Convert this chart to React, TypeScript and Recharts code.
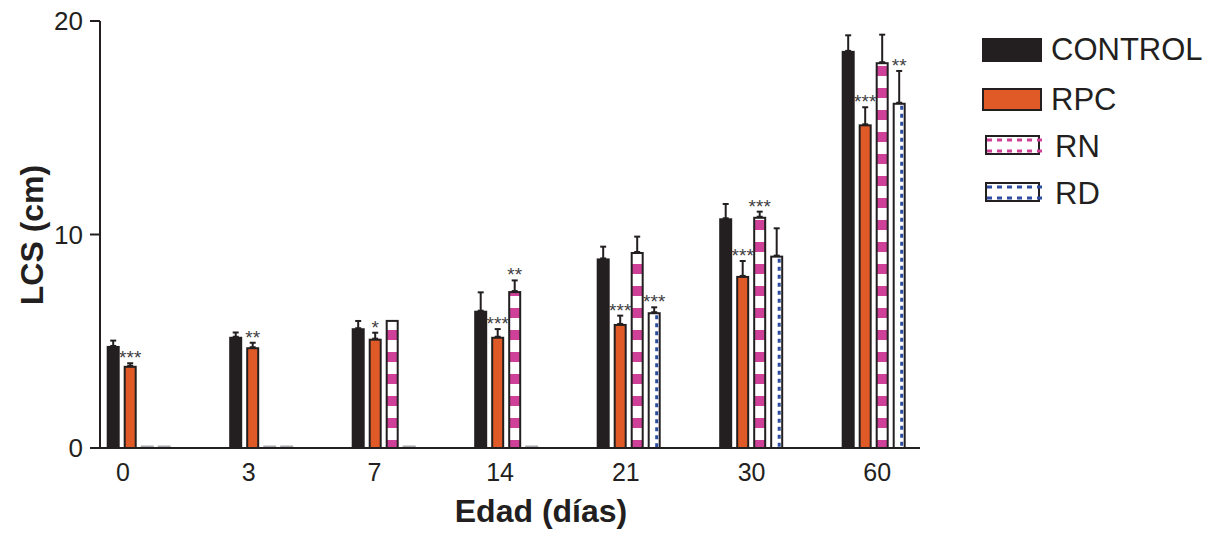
import { BarChart, Bar, XAxis, YAxis, ErrorBar, LabelList, Label } from 'recharts';

const days = ['0', '3', '7', '14', '21', '30', '60'];
const dayIdx = [0, 1, 2, 3, 4, 5, 6];
const yTicks = [0, 10, 20];

const control = [4.78, 5.21, 5.61, 6.43, 8.88, 10.76, 18.6];
const controlErr = [0.25, 0.2, 0.34, 0.86, 0.55, 0.67, 0.73];
const controlSig = ['', '', '', '', '', '', ''];

const rpc = [3.85, 4.72, 5.12, 5.21, 5.81, 8.06, 15.16];
const rpcErr = [0.12, 0.21, 0.28, 0.36, 0.39, 0.7, 0.8];
const rpcSig = ['***', '**', '*', '***', '***', '***', '***'];

const rn = [0, 0, 6.0, 7.35, 9.18, 10.83, 18.07];
const rnErr = [0, 0, 0, 0.5, 0.72, 0.24, 1.29];
const rnSig = ['', '', '', '**', '', '***', ''];

const rd = [0, 0, 0, 0, 6.36, 9.01, 16.17];
const rdErr = [0, 0, 0, 0, 0.23, 1.28, 1.49];
const rdSig = ['', '', '', '', '***', '', '**'];

const INK = '#231f20';
const ORANGE = '#e05a27';
const MAGENTA = '#cf4199';
const BLUE = '#2f4da0';
const FONT = '"Liberation Sans", Arial, sans-serif';

const data = days.map((day, i) => ({
  idx: dayIdx[i],
  day,
  control: control[i],
  controlErr: controlErr[i],
  controlSig: controlSig[i],
  rpc: rpc[i],
  rpcErr: rpcErr[i],
  rpcSig: rpcSig[i],
  rn: rn[i],
  rnErr: rnErr[i],
  rnSig: rnSig[i],
  rd: rd[i],
  rdErr: rdErr[i],
  rdSig: rdSig[i],
}));

const errKey = (key: string) => (row: any) => (row[key] ? [0, row[key]] : null);

const makeShape = (kind: string) => (props: any) => {
  const { x, y, width, height } = props;
  if (!height || height <= 0) {
    return <line x1={x} x2={x + width} y1={y - 1.5} y2={y - 1.5} stroke="#a7a9ac" strokeWidth={2} />;
  }
  if (kind === 'control') {
    return <rect x={x} y={y} width={width} height={height} fill={INK} />;
  }
  const r = { x: x + 1, y: y + 1, width: width - 2, height: height - 1 };
  if (kind === 'rpc') {
    return <rect {...r} fill={ORANGE} stroke={INK} strokeWidth={2} />;
  }
  if (kind === 'rn') {
    return <rect {...r} fill="url(#rnPattern)" stroke={INK} strokeWidth={2} />;
  }
  return (
    <g>
      <rect {...r} fill="#fff" stroke={INK} strokeWidth={2} />
      <line
        x1={x + width - 4}
        x2={x + width - 4}
        y1={y + 3}
        y2={y + height}
        stroke={BLUE}
        strokeWidth={3}
        strokeDasharray="4 4"
      />
    </g>
  );
};

const makeStars = (values: number[], errs: number[]) => (props: any) => {
  const { x, y, width, height, value, index } = props;
  if (!value) return null;
  const v = values[index];
  const pxPerUnit = v ? height / v : 0;
  const errTop = y - errs[index] * pxPerUnit;
  return (
    <text
      x={x + width / 2}
      y={errTop + 1}
      textAnchor="middle"
      fontSize={19}
      fontFamily={FONT}
      fill="#414042"
    >
      {value}
    </text>
  );
};

const legendItems = [
  { name: 'CONTROL', kind: 'control' },
  { name: 'RPC', kind: 'rpc' },
  { name: 'RN', kind: 'rn' },
  { name: 'RD', kind: 'rd' },
];

function ChartLegend() {
  const rowY = [38, 88, 135, 182];
  return (
    <svg width={235} height={230} style={{ position: 'absolute', left: 975, top: 0 }}>
      {legendItems.map((item, i) => {
        const y = rowY[i];
        let sym;
        if (item.kind === 'control') {
          sym = <rect x={7} y={y} width={60} height={24} fill={INK} />;
        } else if (item.kind === 'rpc') {
          sym = <rect x={8} y={y + 1} width={58} height={21} fill={ORANGE} stroke={INK} strokeWidth={2} />;
        } else {
          const c = item.kind === 'rn' ? MAGENTA : BLUE;
          sym = (
            <g>
              <rect x={11} y={y + 1} width={53} height={18} fill="#fff" stroke={INK} strokeWidth={2} />
              <line x1={12} x2={68} y1={y + 5} y2={y + 5} stroke={c} strokeWidth={3} strokeDasharray="5 5" />
              <line x1={12} x2={68} y1={y + 16} y2={y + 16} stroke={c} strokeWidth={3} strokeDasharray="5 5" />
            </g>
          );
        }
        const tx = item.kind === 'control' || item.kind === 'rpc' ? 76 : 80;
        return (
          <g key={item.name}>
            {sym}
            <text x={tx} y={y + 22} fontSize={31} fontFamily={FONT} fill={INK}>
              {item.name}
            </text>
          </g>
        );
      })}
    </svg>
  );
}

export default function App() {
  return (
    <div style={{ position: 'absolute', left: 0, top: 0, width: 1210, height: 535, background: '#fff' }}>
      <BarChart
        width={1210}
        height={535}
        data={data}
        margin={{ top: 21, right: 290, left: 0, bottom: 0 }}
        barSize={13}
        barGap={4}
      >
        <defs>
          <pattern id="rnPattern" patternUnits="userSpaceOnUse" width={16} height={22}>
            <rect x={0} y={0} width={16} height={22} fill="#fff" />
            <rect x={0} y={0} width={16} height={10} fill={MAGENTA} />
          </pattern>
        </defs>
        {/* bar positions */}
        <XAxis
          dataKey="idx"
          type="number"
          domain={[-0.318, 6.376]}
          ticks={dayIdx}
          allowDataOverflow
          height={0}
          hide
        />
        {/* visible axis: the day labels sit on a slightly wider spacing than the bar groups */}
        <XAxis
          xAxisId="labels"
          dataKey="idx"
          type="number"
          domain={[-0.183, 6.34]}
          ticks={dayIdx}
          tickFormatter={(i: number) => days[i]}
          allowDataOverflow
          height={87}
          tickLine={false}
          tickSize={8}
          tickMargin={7}
          axisLine={{ stroke: INK, strokeWidth: 2 }}
          tick={{ fill: INK, fontSize: 25, fontFamily: FONT }}
        >
          <Label
            content={() => (
              <text x={541} y={522} textAnchor="middle" fontSize={32} fontWeight="bold" fontFamily={FONT} fill={INK}>
                Edad (días)
              </text>
            )}
          />
        </XAxis>
        <YAxis
          domain={[0, 20]}
          ticks={yTicks}
          width={100}
          tickSize={10}
          tickMargin={7}
          axisLine={{ stroke: INK, strokeWidth: 2 }}
          tickLine={{ stroke: INK, strokeWidth: 2 }}
          tick={{ fill: INK, fontSize: 26, fontFamily: FONT }}
        >
          <Label
            content={() => (
              <text
                x={32}
                y={235}
                transform="rotate(-90 32 235)"
                textAnchor="middle"
                dominantBaseline="central"
                fontSize={32}
                fontWeight="bold"
                fontFamily={FONT}
                fill={INK}
              >
                LCS (cm)
              </text>
            )}
          />
        </YAxis>
        <Bar dataKey="control" shape={makeShape('control')} isAnimationActive={false}>
          <ErrorBar dataKey={errKey('controlErr')} width={3} stroke={INK} strokeWidth={2} />
          <LabelList dataKey="controlSig" content={makeStars(control, controlErr)} />
        </Bar>
        <Bar dataKey="rpc" shape={makeShape('rpc')} isAnimationActive={false}>
          <ErrorBar dataKey={errKey('rpcErr')} width={3} stroke={INK} strokeWidth={2} />
          <LabelList dataKey="rpcSig" content={makeStars(rpc, rpcErr)} />
        </Bar>
        <Bar dataKey="rn" shape={makeShape('rn')} isAnimationActive={false}>
          <ErrorBar dataKey={errKey('rnErr')} width={3} stroke={INK} strokeWidth={2} />
          <LabelList dataKey="rnSig" content={makeStars(rn, rnErr)} />
        </Bar>
        <Bar dataKey="rd" shape={makeShape('rd')} isAnimationActive={false}>
          <ErrorBar dataKey={errKey('rdErr')} width={3} stroke={INK} strokeWidth={2} />
          <LabelList dataKey="rdSig" content={makeStars(rd, rdErr)} />
        </Bar>
      </BarChart>
      <ChartLegend />
    </div>
  );
}
